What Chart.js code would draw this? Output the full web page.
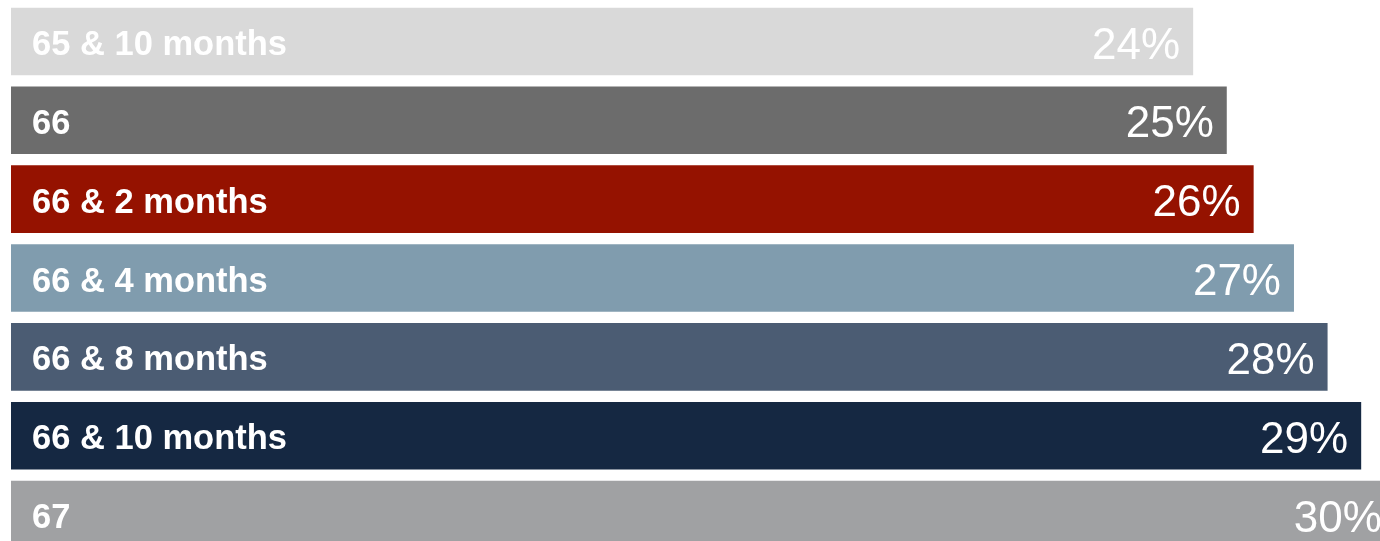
<!DOCTYPE html>
<html>
<head>
<meta charset="utf-8">
<script src="https://cdn.jsdelivr.net/npm/chart.js@4"></script>
<style>
  html, body { margin: 0; padding: 0; background: #fff; overflow: hidden; }
  #wrap { width: 1380px; height: 554px; }
</style>
</head>
<body>
<div id="wrap"><canvas id="edad_jubilacion" width="1380" height="554"></canvas></div>
<script>
(function(){
    var edades = ['65 & 10 months', '66', '66 & 2 months', '66 & 4 months', '66 & 8 months', '66 & 10 months', '67'];
    var porcentajes = [24, 25, 25.8, 27, 28, 29, 30];
    var etiquetas = ['24%', '25%', '26%', '27%', '28%', '29%', '30%'];
    var colores = ['#D9D9D9', '#6C6C6C', '#951200', '#809CAE', '#4B5C73', '#152842', '#A0A1A3'];

    var xMin = -11.18, xMax = 29.56;

    // labels drawn inside the bars
    const etiquetasBarras = {
        id: 'etiquetasBarras',
        afterDatasetsDraw(chart) {
            const ctx = chart.ctx;
            const meta = chart.getDatasetMeta(0);
            ctx.save();
            ctx.fillStyle = '#ffffff';
            ctx.textBaseline = 'middle';
            meta.data.forEach(function(bar, i) {
                ctx.font = 'bold 34.5px "Liberation Sans", Arial, sans-serif';
                ctx.textAlign = 'left';
                ctx.fillText(edades[i], 32, bar.y + 4);
                ctx.font = '44px "Liberation Sans", Arial, sans-serif';
                ctx.textAlign = 'right';
                ctx.fillText(etiquetas[i], bar.x - 13, bar.y + 5);
            });
            ctx.restore();
        }
    };

    const config = {
        type: 'bar',
        data: {
            labels: edades,
            datasets: [{
                data: porcentajes,
                backgroundColor: colores,
                borderWidth: 0,
                base: xMin,
                categoryPercentage: 1,
                barPercentage: 0.857
            }]
        },
        options: {
            indexAxis: 'y',
            responsive: false,
            animation: false,
            layout: { padding: { left: 11, top: 2, right: 0, bottom: 0 } },
            scales: {
                x: { display: false, min: xMin, max: xMax },
                y: { display: false }
            },
            plugins: {
                legend: { display: false },
                tooltip: { enabled: false }
            }
        },
        plugins: [etiquetasBarras]
    };

    new Chart(document.getElementById('edad_jubilacion'), config);
})();
</script>
</body>
</html>
